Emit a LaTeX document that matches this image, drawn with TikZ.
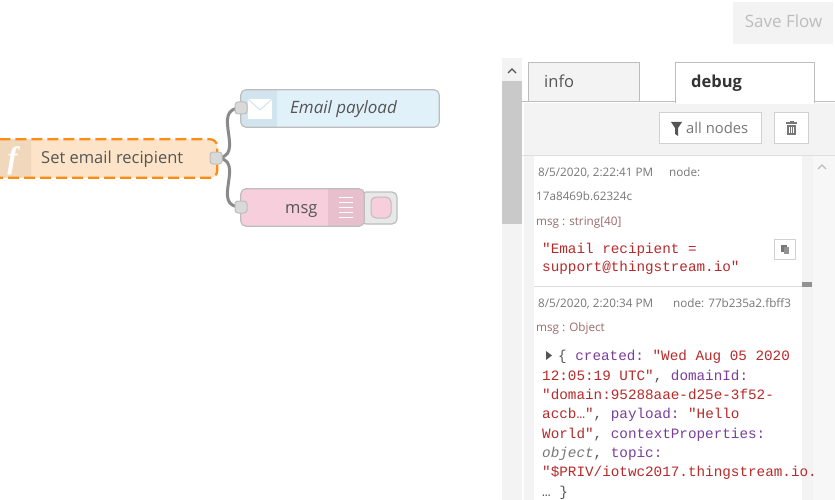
\documentclass[tikz,border=0pt]{standalone}
\usepackage{fontspec}
\setmainfont{Open Sans}
\setmonofont{Liberation Mono}
\newfontfamily\iconfont{Liberation Serif}
\definecolor{wiregray}{HTML}{8A8A8A}
\definecolor{portgray}{HTML}{D9D9D9}
\definecolor{edgegray}{HTML}{BDBDBD}
\definecolor{panelgray}{HTML}{F3F3F3}
\definecolor{barggray}{HTML}{C9C9C9}
\definecolor{labelgray}{HTML}{555555}
\definecolor{metagray}{HTML}{777777}
\definecolor{msgrose}{HTML}{9C6A6A}
\definecolor{strred}{HTML}{B72A2A}
\definecolor{keypurple}{HTML}{7A3E9D}
\definecolor{fnfill}{HTML}{FDE4C8}
\definecolor{fnband}{HTML}{F1D7BC}
\definecolor{fndash}{HTML}{FF8A14}
\definecolor{mailfill}{HTML}{E1F1FA}
\definecolor{mailband}{HTML}{D2E4EE}
\definecolor{dbgfill}{HTML}{F6CEDC}
\definecolor{dbgband}{HTML}{E8BFCD}
\pgfdeclarelayer{portlayer}
\pgfsetlayers{main,portlayer}
\tikzset{
  flowbox/.style={rounded corners=5pt,inner sep=0pt},
  outline/.style={draw=edgegray,line width=1.2pt,rounded corners=5pt},
  port/.style={draw=edgegray,fill=portgray,line width=1pt,rounded corners=3pt,minimum size=12pt,inner sep=0pt},
  wire/.style={draw=wiregray,line width=3pt},
  nodetext/.style={anchor=base west,inner sep=0pt,text=labelgray,font=\fontsize{16.5}{18}\selectfont},
  meta/.style={anchor=base west,inner sep=0pt,text=metagray,font=\fontsize{11.7}{13}\selectfont},
  msgtype/.style={anchor=base west,inner sep=0pt,text=msgrose,font=\fontsize{11.7}{13}\selectfont},
  code/.style={anchor=base west,inner sep=0pt,text=strred,font=\ttfamily\fontsize{14.3}{16}\selectfont},
  btn/.style={draw=edgegray!70,fill=white,line width=1pt,inner sep=0pt},
  tabbox/.style={draw=edgegray,line width=1pt,inner sep=0pt}
}
\begin{document}
\begin{tikzpicture}[x=1pt,y=-1pt]
\clip (0,0) rectangle (835,500);
\fill[white] (0,0) rectangle (835,500);
% save button
\node[fill=panelgray,minimum width=100pt,minimum height=42pt,inner sep=0pt] (savebtn) at (783,23) {};
\node[anchor=base,inner sep=0pt,text=edgegray,font=\fontsize{17}{18}\selectfont] (savetext) at (783.5,28) {Save Flow};
% sidebar
\fill[panelgray] (502,58) rectangle (522,500);
\fill[barggray] (502,81) rectangle (522,224);
\draw[labelgray,line width=1.3pt] (508,73) -- (512,69) -- (516,73);
\fill[panelgray] (524,103) rectangle (835,500);
\node[tabbox,fill=panelgray,minimum width=111pt,minimum height=39pt] (infotab) at (583.5,82.5) {};
\draw[edgegray,line width=1pt] (522,102) -- (835,102);
\node[tabbox,fill=white,minimum width=139pt,minimum height=40pt] (debugtab) at (744.5,83) {};
\fill[white] (675.5,101) rectangle (813.5,104);
\node[nodetext] (infotext) at (544,88) {info};
\node[nodetext,text=black!80,font=\bfseries\fontsize{16.5}{18}\selectfont] (debugtext) at (691,88) {debug};
\node[btn,minimum width=102pt,minimum height=31pt] (filterbtn) at (710,128.5) {};
\node[btn,minimum width=34pt,minimum height=31pt] (trashbtn) at (791,128.5) {};
\fill[labelgray] (671,122) -- (682,122) -- (678,128) -- (678,136) -- (675,134) -- (675,128) -- cycle;
\node[nodetext,text=metagray,font=\fontsize{14.8}{16}\selectfont] (filtertext) at (686,134) {all nodes};
\fill[metagray] (787,125) rectangle (796,135);
\fill[metagray] (786,122.5) rectangle (797,124.2);
\fill[metagray] (789.5,121) rectangle (793.5,123);
\foreach \x in {789.5,791.5,793.5} \draw[white,line width=.5pt] (\x,127) -- (\x,133);
% debug messages
\draw[edgegray!50,line width=1pt] (522,155) -- (835,155);
\fill[white] (534,155.5) rectangle (802,500);
\fill[panelgray!70] (813,155.5) rectangle (835,500);
\draw[edgegray,line width=1.2pt] (818,169) -- (822,165) -- (826,169);
\draw[edgegray!50,line width=1pt] (534,286) -- (802,286);
\fill[metagray!80] (802,282) rectangle (812,287);
\node[meta] (stampa) at (538,176) {8/5/2020, 2:22:41 PM};
\node[meta] (nodea) at (669,176) {node:};
\node[meta] (ida) at (536,200) {17a8469b.62324c};
\node[msgtype] (typea) at (536,225) {msg : string[40]};
\node[code] (stra) at (542,253) {"Email recipient =};
\node[code] (strb) at (542,271) {support@thingstream.io"};
\node[btn,minimum width=21pt,minimum height=20pt] (copybtn) at (785,249) {};
\fill[metagray] (781,245) rectangle (787,252);
\fill[metagray!80] (784,247) rectangle (789,254);
\node[meta] (stampb) at (538,307) {8/5/2020, 2:20:34 PM};
\node[meta] (nodeb) at (673,307) {node: 77b235a2.fbff3};
\node[msgtype] (typeb) at (536,331) {msg : Object};
\fill[labelgray] (546,351) -- (552,355.5) -- (546,360) -- cycle;
\node[code] (obja) at (558,360) {\textcolor{labelgray}{\{} \textcolor{keypurple}{created:} "Wed Aug 05 2020};
\node[code] (objb) at (542,380) {12:05:19 UTC"\textcolor{labelgray}{,} \textcolor{keypurple}{domainId:}};
\node[code] (objc) at (542,399) {"domain:95288aae-d25e-3f52-};
\node[code] (objd) at (542,418) {accb…"\textcolor{labelgray}{,} \textcolor{keypurple}{payload:} "Hello};
\node[code] (obje) at (542,438) {World"\textcolor{labelgray}{,} \textcolor{keypurple}{contextProperties:}};
\node[code] (objf) at (542,457) {\textcolor{metagray}{\itshape object}\textcolor{labelgray}{,} \textcolor{keypurple}{topic:}};
\node[code] (objg) at (542,476) {"\$PRIV/iotwc2017.thingstream.io.};
\node[code,text=labelgray] (objh) at (542,496) {… \}};
% function node
\node[flowbox,fill=fnfill,minimum width=237pt,minimum height=38pt] (setnode) at (98.5,158.5) {};
\fill[fnband,rounded corners=5pt] (15,139.5) -- (-20,139.5) -- (-20,177.5) -- (15,177.5) [sharp corners] -- (31,177.5) -- (31,139.5) -- cycle;
\draw[fndash,line width=2.2pt,dash pattern=on 11pt off 5pt,rounded corners=7pt] (setnode.south west) rectangle (setnode.north east);
\node[anchor=base,inner sep=0pt,text=white,font=\iconfont\bfseries\itshape\fontsize{31}{32}\selectfont] (seticon) at (12.5,168) {f};
\node[nodetext] (settext) at (41,164) {Set email recipient};
% email node
\node[flowbox,fill=mailfill,minimum width=198pt,minimum height=37pt] (mailnode) at (340,108.5) {};
\fill[mailband,rounded corners=5pt] (260,90) -- (241,90) -- (241,127) -- (260,127) [sharp corners] -- (277,127) -- (277,90) -- cycle;
\draw[outline] (mailnode.south west) rectangle (mailnode.north east);
\fill[white] (248,99) rectangle (272,119);
\draw[mailband,line width=1pt] (248,99) -- (260,110) -- (272,99);
\node[nodetext,font=\itshape\fontsize{17}{18}\selectfont] (mailtext) at (290,114) {Email payload};
% msg node
\node[flowbox,draw=edgegray,fill=black!9,line width=1.2pt,minimum width=36pt,minimum height=32pt] (togglebox) at (379,208) {};
\node[flowbox,draw=edgegray,fill=dbgfill,line width=1pt,minimum width=20pt,minimum height=21pt] (toggleinner) at (381,207.5) {};
\node[flowbox,fill=dbgfill,minimum width=123pt,minimum height=37pt] (msgnode) at (302.5,207.5) {};
\fill[dbgband,rounded corners=5pt] (345,189) -- (364,189) -- (364,226) -- (345,226) [sharp corners] -- (328,226) -- (328,189) -- cycle;
\draw[outline] (msgnode.south west) rectangle (msgnode.north east);
\foreach \y in {197,202,207,212,217} \draw[white,line width=1pt] (339,\y) -- (353,\y);
\node[nodetext] (msgtext) at (285,213) {msg};
% ports and wires
\begin{pgfonlayer}{portlayer}
\node[port] (setout) at (216,158) {};
\node[port] (mailin) at (241,108) {};
\node[port] (msgin) at (241,207) {};
\end{pgfonlayer}
\draw[wire] (setout.center) .. controls +(32,0) and +(-32,0) .. (mailin.center);
\draw[wire] (setout.center) .. controls +(32,0) and +(-32,0) .. (msgin.center);
\end{tikzpicture}
\end{document}
